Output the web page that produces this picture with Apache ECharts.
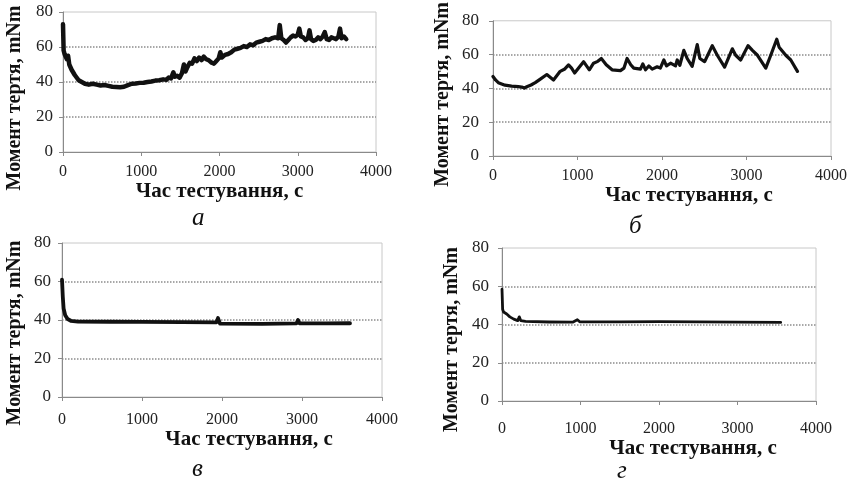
<!DOCTYPE html>
<html>
<head>
<meta charset="utf-8">
<script src="https://cdn.jsdelivr.net/npm/echarts@6/dist/echarts.min.js"></script>
<style>
html,body{margin:0;padding:0;background:#fff;}
#main{width:855px;height:483px;}
</style>
</head>
<body>
<div id="main"></div>
<script>
// ---- Data ----
var xTicks = [0, 1000, 2000, 3000, 4000];
var yTicks = [0, 20, 40, 60, 80];
var panelLabels = ['а', 'б', 'в', 'г'];
var xTitle = 'Час тестування, с';
var yTitle = 'Момент тертя, mNm';

var timesA = [0, 8, 20, 35, 50, 65, 80, 95, 110, 130, 150, 175, 200, 240, 280, 330, 380, 430, 480, 530, 580, 630, 680, 730, 780, 830, 880, 930, 980, 1030, 1080, 1130, 1180, 1230, 1280, 1320, 1350, 1380, 1410, 1430, 1460, 1490, 1520, 1545, 1565, 1590, 1620, 1650, 1680, 1710, 1740, 1770, 1800, 1830, 1860, 1900, 1930, 1960, 1990, 2010, 2030, 2070, 2110, 2150, 2190, 2230, 2270, 2310, 2350, 2390, 2430, 2470, 2510, 2550, 2590, 2630, 2670, 2710, 2750, 2770, 2790, 2820, 2850, 2880, 2910, 2940, 2970, 3000, 3020, 3040, 3070, 3100, 3130, 3150, 3170, 3200, 3230, 3260, 3290, 3320, 3345, 3370, 3400, 3430, 3460, 3490, 3520, 3540, 3560, 3590, 3620];
var torqueA = [73, 58, 56, 57, 53, 55, 50, 51, 47, 48, 44, 43, 41, 40, 39, 38.5, 39, 38.5, 38, 38.3, 37.8, 37.3, 37.2, 37.0, 37.3, 38.2, 39, 39.2, 39.5, 39.6, 40, 40.3, 40.8, 41, 41.5, 41.2, 42.5, 42, 45.5, 43, 43.5, 42.5, 45, 50, 46, 48.5, 51, 50.5, 53.5, 52, 54, 52.5, 54.5, 53, 52.5, 51, 50.5, 52, 53.5, 57, 54, 55.5, 56, 57, 58.5, 59, 59.5, 60.5, 60, 61.5, 61, 62.5, 63, 63.5, 64.5, 64, 65, 65.5, 65, 72.5, 65, 64, 62.5, 64, 65.5, 66.5, 66, 67, 70.5, 66, 65.5, 64, 65, 69.5, 64.5, 63.5, 64, 65.5, 64.5, 66, 68.5, 64.5, 64, 65.5, 65, 64.5, 66, 70.5, 65, 66, 64.5];

var timesB = [0, 30, 63, 142, 220, 300, 340, 372, 400, 450, 500, 560, 637, 716, 795, 850, 894, 930, 966, 1020, 1072, 1140, 1190, 1240, 1282, 1340, 1409, 1508, 1550, 1587, 1630, 1666, 1745, 1773, 1805, 1844, 1884, 1943, 1980, 2022, 2053, 2101, 2160, 2180, 2211, 2258, 2298, 2357, 2417, 2448, 2504, 2595, 2654, 2741, 2832, 2872, 2931, 3018, 3070, 3130, 3228, 3287, 3358, 3386, 3465, 3524, 3603];
var torqueB = [47, 45, 43.4, 41.9, 41.3, 41, 40.8, 40.2, 41, 42, 43.4, 45.5, 48.2, 45, 50.1, 51.5, 53.9, 52, 49.1, 52.5, 55.8, 51, 54.9, 56, 57.7, 54, 51, 50.5, 52, 57.7, 54, 52, 51.4, 54.5, 51, 53.3, 51.4, 52.8, 52, 56.8, 53.3, 54.9, 53.3, 56.8, 53.7, 62.5, 57.7, 53, 65.9, 57.7, 55.8, 65.3, 59.6, 52.6, 63.4, 59.6, 56.8, 65.3, 62.5, 59.6, 52, 59.6, 69.1, 64.4, 59.6, 56.8, 50.1];

var timesC = [0, 10, 20, 40, 70, 110, 200, 600, 1000, 1500, 1930, 1950, 1975, 2500, 2930, 2950, 2970, 3300, 3600];
var torqueC = [61, 52, 46, 42.5, 40.5, 39.6, 39.2, 39.1, 39, 38.9, 38.8, 41, 38.1, 38, 38.2, 40, 38.2, 38.2, 38.3];

var timesD = [0, 8, 20, 60, 100, 150, 200, 220, 240, 300, 600, 900, 960, 990, 1500, 2000, 2500, 3000, 3550];
var torqueD = [58.5, 48, 46.5, 45.5, 44, 42.8, 42, 44, 42, 41.6, 41.3, 41.2, 42.5, 41.4, 41.4, 41.5, 41.4, 41.2, 41.1];

function zip(t, v) { return t.map(function (x, i) { return [x, v[i]]; }); }

// ---- Layout ----
var FONT = 'Liberation Serif';
var panels = [
  { grid: {left: 63, top: 12, width: 313, height: 140}, xGap: 29, xShift: 0, yGap: 38, yShift: 16, xMargin: 12, yMargin: 10, lw: 4.5, data: zip(timesA, torqueA), label: [200, 221] },
  { grid: {left: 493, top: 16, width: 338, height: 140}, xGap: 28, xShift: 27, yGap: 40, yShift: 6, xMargin: 12, yMargin: 14, lw: 3.2, data: zip(timesB, torqueB), label: [637, 229] },
  { grid: {left: 62, top: 243, width: 320, height: 154}, xGap: 32, xShift: 27, yGap: 37, yShift: 13, xMargin: 15, yMargin: 11, lw: 3.8, data: zip(timesC, torqueC), label: [200, 472] },
  { grid: {left: 502, top: 248, width: 314, height: 153}, xGap: 37, xShift: 34, yGap: 40, yShift: 15, xMargin: 20, yMargin: 13, lw: 2.8, data: zip(timesD, torqueD), label: [625, 474] }
];

var option = {
  animation: false,
  backgroundColor: '#ffffff',
  textStyle: { fontFamily: FONT },
  grid: [], xAxis: [], yAxis: [], series: [], graphic: []
};

panels.forEach(function (p, i) {
  option.grid.push(Object.assign({ show: true, borderColor: '#c8c8c8', borderWidth: 1, backgroundColor: 'transparent' }, p.grid));
  option.xAxis.push({
    type: 'value', gridIndex: i, min: xTicks[0], max: xTicks[xTicks.length - 1], interval: xTicks[1] - xTicks[0],
    name: xTitle, nameLocation: 'middle', nameGap: p.xGap,
    nameTextStyle: { fontFamily: FONT, fontWeight: 'bold', fontSize: 21, color: '#111', padding: [0, 0, 0, p.xShift * 2] },
    axisLine: { show: true, onZero: false, lineStyle: { color: '#8a8a8a', width: 1 } },
    axisTick: { show: true, length: 4, lineStyle: { color: '#8a8a8a' } },
    axisLabel: { fontFamily: FONT, fontSize: 16, color: '#222', margin: p.xMargin, formatter: function (v) { return String(v); } },
    splitLine: { show: false }
  });
  option.yAxis.push({
    type: 'value', gridIndex: i, min: yTicks[0], max: yTicks[yTicks.length - 1], interval: yTicks[1] - yTicks[0],
    name: yTitle, nameLocation: 'middle', nameGap: p.yGap,
    nameTextStyle: { fontFamily: FONT, fontWeight: 'bold', fontSize: 20, color: '#111', padding: [0, p.yShift * 2, 0, 0] },
    axisLine: { show: true, onZero: false, lineStyle: { color: '#8a8a8a', width: 1 } },
    axisTick: { show: true, length: 4, lineStyle: { color: '#8a8a8a' } },
    axisLabel: { fontFamily: FONT, fontSize: 17, color: '#222', margin: p.yMargin, formatter: function (v) { return String(v); } },
    splitLine: { show: true, lineStyle: { type: 'dotted', width: 1.5, color: ['transparent', '#8c8c8c', '#8c8c8c', '#8c8c8c', 'transparent'] } }
  });
  option.series.push({
    type: 'line', xAxisIndex: i, yAxisIndex: i, data: p.data, showSymbol: false, symbol: 'none',
    lineStyle: { color: '#111', width: p.lw, join: 'round', cap: 'round' }
  });
  option.graphic.push({
    type: 'text', left: p.label[0] - 8, top: p.label[1] - 15,
    style: { text: panelLabels[i], font: 'italic 25px "Liberation Serif"', fill: '#111' }
  });
});

var chart = echarts.init(document.getElementById('main'), null, { renderer: 'canvas' });
chart.setOption(option);
</script>
</body>
</html>
